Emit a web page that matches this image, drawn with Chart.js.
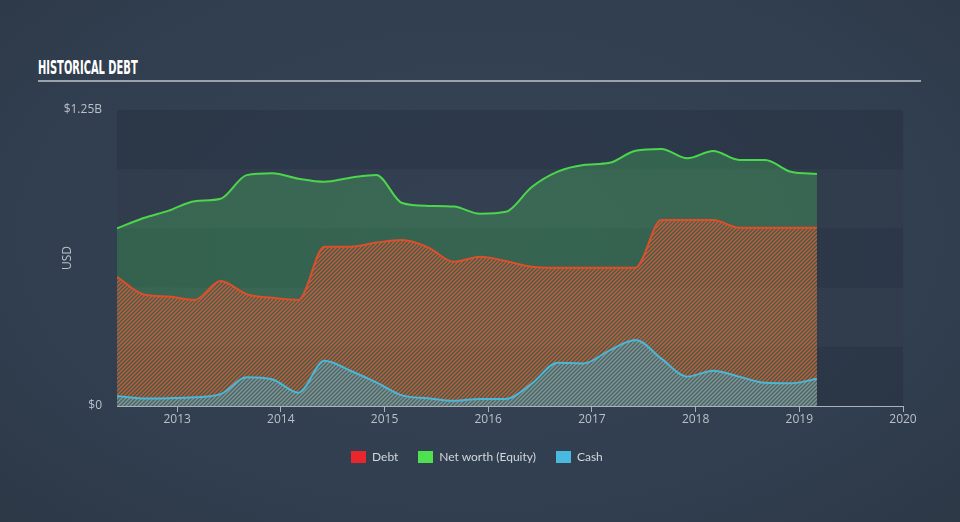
<!DOCTYPE html>
<html>
<head>
<meta charset="utf-8">
<script src="https://cdn.jsdelivr.net/npm/chart.js@4.4.1/dist/chart.umd.min.js"></script>
<style>
  html, body { margin: 0; padding: 0; }
  body {
    width: 960px; height: 522px; overflow: hidden; position: relative;
    background: radial-gradient(ellipse at 50% 45%, #354456 0%, #313e4f 70%, #2c3846 100%);
    font-family: Lato, "Open Sans", sans-serif;
  }
  #title {
    position: absolute; left: 38px; top: 56px; color: #fff;
    font: bold 19px "Liberation Sans Narrow", "DejaVu Sans Condensed", sans-serif;
    transform: scaleX(0.58); transform-origin: left top; white-space: nowrap;
  }
  #rule { position: absolute; left: 38px; top: 80px; width: 883px; height: 2px; background: #9aa2ac; }
  #chart { position: absolute; left: 0; top: 0; }
  #legend {
    position: absolute; left: 351px; top: 449px; display: flex; align-items: center;
    color: #d3d7dc; font-size: 12px;
  }
  #legend span.box { display: inline-block; width: 15px; height: 12px; margin-right: 6px; }
  #legend .item { display: flex; align-items: center; margin-right: 20px; }
</style>
</head>
<body>
<div id="title">HISTORICAL DEBT</div>
<div id="rule"></div>
<canvas id="chart" width="960" height="522"></canvas>
<div id="legend">
  <div class="item"><span class="box" style="background:#e8262b"></span>Debt</div>
  <div class="item"><span class="box" style="background:#4ee04e"></span>Net worth (Equity)</div>
  <div class="item"><span class="box" style="background:#49b9e0"></span>Cash</div>
</div>
<script>
// quarter ends, as decimal years
const quarters = [
  2012.42, 2012.67, 2012.92, 2013.17, 2013.42, 2013.67, 2013.92,
  2014.17, 2014.42, 2014.67, 2014.92, 2015.17, 2015.42, 2015.67,
  2015.92, 2016.17, 2016.42, 2016.67, 2016.92, 2017.17, 2017.42,
  2017.67, 2017.92, 2018.17, 2018.42, 2018.67, 2018.92, 2019.17
];
// values in billions USD
const debt = [
  0.546, 0.472, 0.462, 0.448, 0.528, 0.472, 0.457,
  0.448, 0.673, 0.673, 0.690, 0.701, 0.670, 0.609,
  0.630, 0.612, 0.588, 0.584, 0.584, 0.584, 0.584,
  0.785, 0.785, 0.785, 0.753, 0.753, 0.753, 0.753
];
const equity = [
  0.750, 0.793, 0.825, 0.865, 0.875, 0.975, 0.983,
  0.960, 0.947, 0.964, 0.976, 0.857, 0.845, 0.842,
  0.812, 0.820, 0.925, 0.990, 1.018, 1.027, 1.078,
  1.085, 1.046, 1.077, 1.039, 1.039, 0.989, 0.980
];
const cash = [
  0.042, 0.032, 0.033, 0.037, 0.050, 0.121, 0.112,
  0.056, 0.191, 0.149, 0.100, 0.045, 0.033, 0.022,
  0.030, 0.030, 0.095, 0.183, 0.180, 0.235, 0.279,
  0.200, 0.124, 0.149, 0.124, 0.098, 0.096, 0.115
];
const yearTicks = [2013, 2014, 2015, 2016, 2017, 2018, 2019, 2020];

const canvas = document.getElementById("chart");
const ctx = canvas.getContext("2d");

// small diagonal hatch used for the debt and cash areas
function hatch(bg, stripe) {
  const c = document.createElement("canvas");
  c.width = c.height = 4;
  const g = c.getContext("2d");
  if (bg) { g.fillStyle = bg; g.fillRect(0, 0, 4, 4); }
  g.strokeStyle = stripe;
  g.lineWidth = 1.4;
  g.beginPath();
  g.moveTo(0, 4); g.lineTo(4, 0);
  g.moveTo(-1, 1); g.lineTo(1, -1);
  g.moveTo(3, 5); g.lineTo(5, 3);
  g.stroke();
  return ctx.createPattern(c, "repeat");
}

const toPoints = (arr) => arr.map((v, i) => ({ x: quarters[i], y: v }));

// darker plot background with alternating bands
const bands = {
  id: "bands",
  beforeDatasetsDraw(chart) {
    const { ctx, chartArea: { left, right, top, bottom }, scales: { y } } = chart;
    ctx.save();
    ctx.fillStyle = "rgba(18,26,38,0.2)";
    ctx.fillRect(left, top, right - left, bottom - top);
    ctx.fillStyle = "rgba(255,255,255,0.03)";
    [[0.25, 0.5], [0.75, 1.0]].forEach(([a, b]) => {
      const y1 = y.getPixelForValue(b), y2 = y.getPixelForValue(a);
      ctx.fillRect(left, y1, right - left, y2 - y1);
    });
    ctx.restore();
  }
};

const tickFont = { family: "'Open Sans'", size: 12 };

new Chart(ctx, {
  type: "line",
  plugins: [bands],
  data: {
    datasets: [
      {
        label: "Cash",
        data: toPoints(cash),
        borderColor: "#4ab6d8",
        backgroundColor: hatch("rgba(75,118,130,0.45)", "rgba(115,180,198,0.6)"),
        fill: "origin",
        order: 0,
      },
      {
        label: "Debt",
        data: toPoints(debt),
        borderColor: "#dc4f2c",
        backgroundColor: hatch("rgba(120,60,50,0.15)", "rgba(225,92,55,0.85)"),
        fill: "origin",
        order: 1,
      },
      {
        label: "Net worth (Equity)",
        data: toPoints(equity),
        borderColor: "#4cd64c",
        backgroundColor: "rgba(76,214,96,0.27)",
        fill: "origin",
        order: 2,
      },
    ],
  },
  options: {
    responsive: false,
    animation: false,
    layout: { padding: { left: 0, top: 110, right: 57, bottom: 86 } },
    elements: {
      line: { borderWidth: 2, cubicInterpolationMode: "monotone" },
      point: { radius: 0 },
    },
    plugins: {
      legend: { display: false },
      tooltip: { enabled: false },
    },
    scales: {
      x: {
        type: "linear",
        min: 2012.42,
        max: 2020,
        afterBuildTicks: (scale) => { scale.ticks = yearTicks.map((v) => ({ value: v })); },
        afterFit: (scale) => { scale.height = 30; },
        border: { display: true, color: "#a9b1bb", width: 1 },
        grid: { drawOnChartArea: false, drawTicks: true, tickLength: 6, color: "#a9b1bb" },
        ticks: {
          padding: 0,
          color: "#b9c0c8",
          font: tickFont,
          callback: (v) => String(v),
        },
      },
      y: {
        min: 0,
        max: 1.25,
        afterBuildTicks: (scale) => { scale.ticks = [{ value: 0 }, { value: 1.25 }]; },
        afterFit: (scale) => { scale.width = 117; },
        border: { display: false },
        grid: { display: false, drawTicks: false },
        ticks: {
          padding: 15,
          color: "#b9c0c8",
          font: tickFont,
          callback: (v) => (v === 0 ? "$0" : "$1.25B"),
        },
        title: {
          display: true,
          text: "USD",
          color: "#b9c0c8",
          font: tickFont,
          padding: { top: 60, bottom: 0 },
        },
      },
    },
  },
});
</script>
</body>
</html>
